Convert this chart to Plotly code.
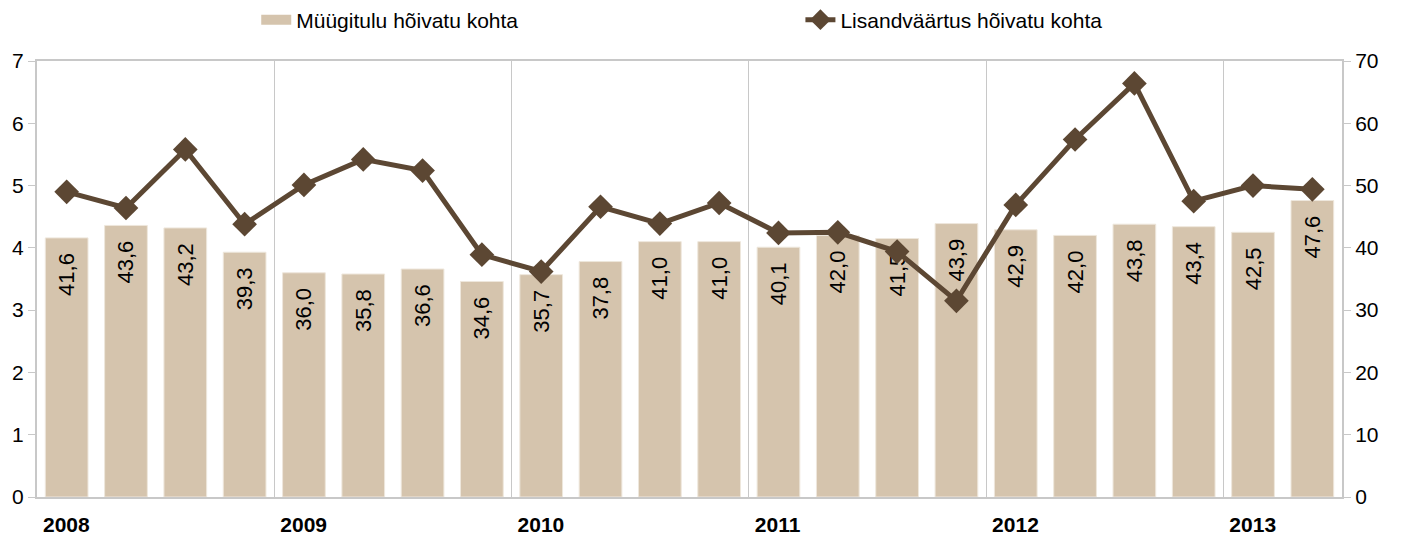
import plotly.graph_objects as go

# kvartalid 2008 I - 2013 II
quarters = list(range(22))
years = ["2008", "2009", "2010", "2011", "2012", "2013"]
year_starts = [-0.5, 3.5, 7.5, 11.5, 15.5, 19.5]

# müügitulu hõivatu kohta (parem telg)
sales = [41.6, 43.6, 43.2, 39.3, 36.0, 35.8, 36.6, 34.6, 35.7, 37.8, 41.0,
         41.0, 40.1, 42.0, 41.5, 43.9, 42.9, 42.0, 43.8, 43.4, 42.5, 47.6]

# lisandväärtus hõivatu kohta (vasak telg)
value_added = [4.90, 4.64, 5.58, 4.38, 5.01, 5.42, 5.24, 3.89, 3.62, 4.66, 4.39,
               4.72, 4.24, 4.25, 3.94, 3.15, 4.69, 5.74, 6.64, 4.75, 5.00, 4.94]

bar_color = "#D5C4AD"
line_color = "#5C4733"
grid_color = "#C8C8C8"
font_family = "Liberation Sans, Arial, sans-serif"

# trailing nbsp pushes the label a bit down from the bar top
labels = [f"{v:.1f}".replace(".", ",") + "\u00a0\u00a0" for v in sales]

fig = go.Figure()

fig.add_trace(go.Bar(
    x=quarters, y=sales, name="Müügitulu hõivatu kohta",
    marker=dict(color=bar_color, line=dict(color="#EEE7DC", width=1)),
    text=labels, textposition="inside", insidetextanchor="end",
    textangle=-90, textfont=dict(size=22, color="black"),
    yaxis="y", showlegend=False,
))

# legend swatch for the bars (wide rectangle like in the original)
fig.add_trace(go.Scatter(
    x=[None], y=[None], name="Müügitulu hõivatu kohta", mode="lines",
    line=dict(color=bar_color, width=14), yaxis="y", legend="legend",
))

fig.add_trace(go.Scatter(
    x=quarters, y=value_added, name="Lisandväärtus hõivatu kohta",
    mode="lines+markers",
    line=dict(color=line_color, width=5),
    marker=dict(symbol="diamond", size=19, color=line_color),
    yaxis="y2", legend="legend2",
))

fig.update_layout(
    width=1402, height=539,
    margin=dict(l=29, r=68, t=53, b=50, autoexpand=False),
    plot_bgcolor="white", paper_bgcolor="white",
    font=dict(family=font_family, size=21, color="black"),
    bargap=0.28,
    showlegend=True,
    xaxis=dict(
        range=[-0.5, 21.5], tickmode="array",
        tickvals=year_starts, ticktext=["<b>" + y + "</b>" for y in years],
        ticklabelposition="outside right", ticks="",
        ticklabelstandoff=8, ticklabelshift=5,
        showgrid=True, gridcolor=grid_color, gridwidth=1,
        showline=True, linecolor=grid_color, linewidth=2, mirror=True,
        zeroline=False, tickfont=dict(size=21), automargin=False,
    ),
    yaxis=dict(
        side="right", range=[0, 70], dtick=10,
        showgrid=False, zeroline=False, automargin=False,
        showline=True, linecolor=grid_color, linewidth=2,
        ticks="outside", ticklen=7, tickcolor=grid_color,
    ),
    yaxis2=dict(
        side="left", overlaying="y", range=[0, 7], dtick=1,
        showgrid=False, zeroline=False, automargin=False,
        showline=True, linecolor=grid_color, linewidth=2,
        ticks="outside", ticklen=7, tickcolor=grid_color,
    ),
    legend=dict(
        orientation="h", x=0.168, xanchor="left", y=1.094, yanchor="middle",
        font=dict(size=21), bgcolor="rgba(0,0,0,0)",
    ),
    legend2=dict(
        orientation="h", x=0.585, xanchor="left", y=1.094, yanchor="middle",
        font=dict(size=21), bgcolor="rgba(0,0,0,0)",
    ),
)

fig.write_html("out.html")
